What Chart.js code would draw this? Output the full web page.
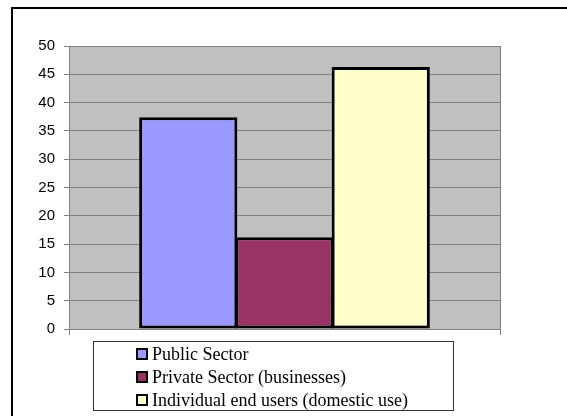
<!DOCTYPE html>
<html>
<head>
<meta charset="utf-8">
<script src="https://cdn.jsdelivr.net/npm/chart.js@4"></script>
<style>
  html, body { margin: 0; padding: 0; background: #fff; }
  #wrap { width: 567px; height: 416px; position: relative; }
</style>
</head>
<body>
<div id="wrap"><canvas id="chart"></canvas></div>
<script>
// --- data ---
const sectors = ['Public Sector', 'Private Sector (businesses)', 'Individual end users (domestic use)'];
const shares = [37.4, 16.2, 46.3];
const sectorColors = ['#9999FF', '#993366', '#FFFFCC'];
const yMin = 0, yMax = 50, yStep = 5;

// plot background, outer frame and the boxed legend
const excelLook = {
  id: 'excelLook',
  beforeDraw(chart) {
    const { ctx, chartArea: a } = chart;
    ctx.save();
    ctx.fillStyle = '#fff';
    ctx.fillRect(0, 0, chart.width, chart.height);
    ctx.fillStyle = '#C0C0C0';
    ctx.fillRect(a.left, a.top, a.right - a.left, a.bottom - a.top);
    ctx.strokeStyle = '#808080';
    ctx.lineWidth = 1;
    ctx.beginPath();
    ctx.moveTo(a.right + 0.5, a.top);
    ctx.lineTo(a.right + 0.5, a.bottom);
    ctx.stroke();
    ctx.restore();
  },
  afterDraw(chart) {
    const { ctx } = chart;
    ctx.save();
    // outer frame (left + top only are inside the picture)
    ctx.strokeStyle = '#000';
    ctx.lineWidth = 2;
    ctx.beginPath();
    ctx.moveTo(12, chart.height);
    ctx.lineTo(12, 8);
    ctx.lineTo(chart.width, 8);
    ctx.stroke();

    // legend box
    ctx.lineWidth = 1;
    ctx.strokeStyle = '#333';
    ctx.strokeRect(93.5, 341.5, 360, 69);
    ctx.font = '18px "Liberation Serif", "Times New Roman", serif';
    ctx.textBaseline = 'middle';
    chart.data.datasets.forEach((ds, i) => {
      const y = 354 + i * 23;
      ctx.fillStyle = ds.backgroundColor;
      ctx.fillRect(137, y - 5, 10, 10);
      ctx.strokeStyle = '#000';
      ctx.lineWidth = 2;
      ctx.strokeRect(137, y - 5, 10, 10);
      ctx.fillStyle = '#000';
      ctx.fillText(ds.label, 152, y + 1);
    });
    ctx.restore();
  }
};

new Chart(document.getElementById('chart'), {
  type: 'bar',
  data: {
    labels: [''],
    datasets: sectors.map((s, i) => ({
      label: s,
      data: [shares[i]],
      backgroundColor: sectorColors[i],
      borderColor: '#000',
      borderWidth: 3,
      borderSkipped: false
    }))
  },
  options: {
    responsive: true,
    maintainAspectRatio: false,
    animation: false,
    layout: { padding: { left: 0, top: 46, right: 67, bottom: 81 } },
    plugins: { legend: { display: false }, tooltip: { enabled: false } },
    datasets: { bar: { categoryPercentage: 0.67, barPercentage: 1.02 } },
    scales: {
      x: {
        offset: true,
        grid: { drawOnChartArea: false, offset: true, tickLength: 6, color: '#808080' },
        border: { color: '#808080' },
        ticks: { display: false },
        afterFit: s => { s.height = 6; }
      },
      y: {
        min: yMin,
        max: yMax,
        ticks: {
          stepSize: yStep,
          color: '#000',
          padding: 9,
          font: { family: '"Liberation Sans", Arial, sans-serif', size: 15 }
        },
        grid: { color: '#808080', tickLength: 5 },
        border: { color: '#808080' },
        afterFit: s => { s.width = 69; }
      }
    }
  },
  plugins: [excelLook]
});
</script>
</body>
</html>
